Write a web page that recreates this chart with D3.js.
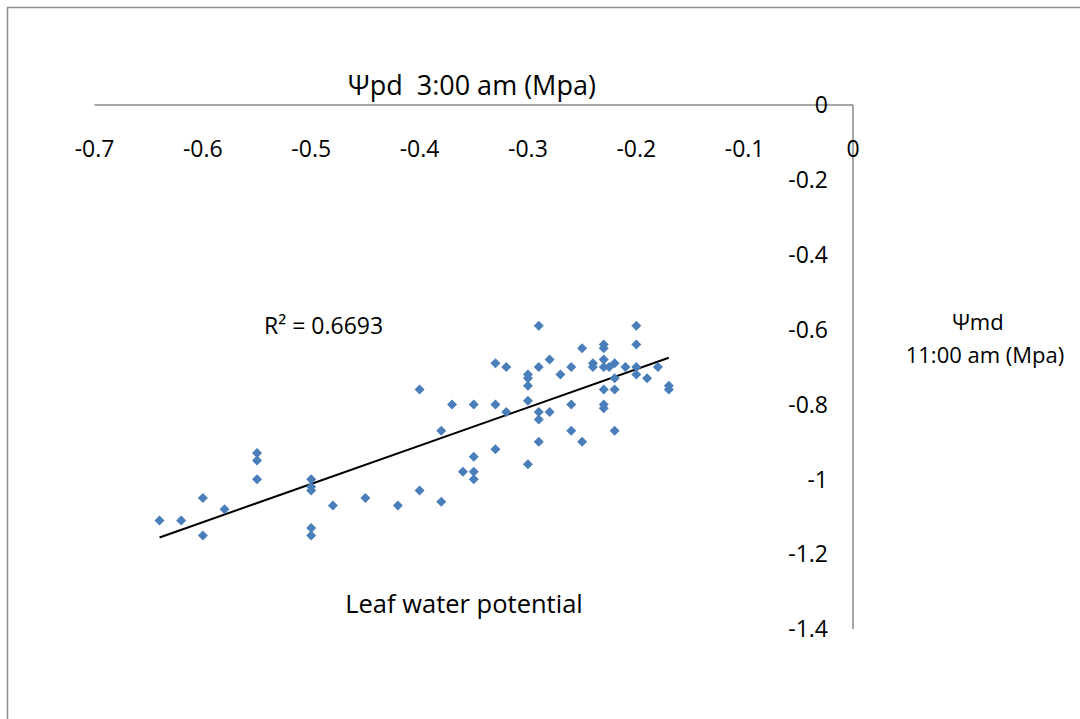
<!DOCTYPE html>
<html>
<head>
<meta charset="utf-8">
<script src="https://cdn.jsdelivr.net/npm/d3@7"></script>
<style>
  html, body { margin: 0; padding: 0; background: #ffffff; }
  svg { display: block; }
  text { font-family: "Open Sans", "Liberation Sans", sans-serif; fill: #000; }
</style>
</head>
<body>
<svg id="chart" width="1080" height="719"></svg>
<script>
// ---- data ----
const psiPredawn = [
  -0.64, -0.62, -0.60, -0.60, -0.58, -0.55, -0.55, -0.55,
  -0.50, -0.50, -0.50, -0.50, -0.50, -0.48, -0.45, -0.42,
  -0.40, -0.40, -0.38, -0.38, -0.37, -0.36, -0.35, -0.35,
  -0.35, -0.35, -0.33, -0.33, -0.33, -0.32, -0.32, -0.30,
  -0.30, -0.30, -0.30, -0.30, -0.29, -0.29, -0.29, -0.29,
  -0.29, -0.28, -0.28, -0.27, -0.26, -0.26, -0.26, -0.25,
  -0.25, -0.24, -0.24, -0.23, -0.23, -0.23, -0.23, -0.23,
  -0.23, -0.23, -0.225, -0.22, -0.22, -0.22, -0.22, -0.21,
  -0.20, -0.20, -0.20, -0.20, -0.19, -0.18, -0.17, -0.17
];
const psiMidday = [
  -1.11, -1.11, -1.05, -1.15, -1.08, -0.93, -0.95, -1.00,
  -1.00, -1.02, -1.03, -1.13, -1.15, -1.07, -1.05, -1.07,
  -1.03, -0.76, -1.06, -0.87, -0.80, -0.98, -0.80, -0.94,
  -0.98, -1.00, -0.69, -0.80, -0.92, -0.70, -0.82, -0.72,
  -0.73, -0.75, -0.79, -0.96, -0.59, -0.70, -0.82, -0.84,
  -0.90, -0.68, -0.82, -0.72, -0.70, -0.80, -0.87, -0.65,
  -0.90, -0.69, -0.70, -0.64, -0.65, -0.68, -0.70, -0.76,
  -0.80, -0.81, -0.70, -0.69, -0.73, -0.76, -0.87, -0.70,
  -0.59, -0.64, -0.70, -0.72, -0.73, -0.70, -0.75, -0.76
];
const xTicks = [-0.7, -0.6, -0.5, -0.4, -0.3, -0.2, -0.1, 0];
const yTicks = [0, -0.2, -0.4, -0.6, -0.8, -1, -1.2, -1.4];
const xTitle = "Ψpd  3:00 am (Mpa)";
const yTitleLines = ["Ψmd", "11:00 am (Mpa)"];
const chartLabel = "Leaf water potential";
const r2Label = "R² = 0.6693";

// ---- layout ----
const svg = d3.select("#chart");
const x = d3.scaleLinear().domain([-0.7, 0]).range([94.5, 853]);
const y = d3.scaleLinear().domain([0, -1.4]).range([105, 629]);
const fmt = d => String(d);  // plain hyphen-minus like the reference

// outer frame
svg.append("rect")
  .attr("x", 7.5).attr("y", 7.5)
  .attr("width", 1100).attr("height", 750)
  .attr("fill", "none").attr("stroke", "#8c8c8c").attr("stroke-width", 1.5);

// axes lines
svg.append("line")
  .attr("x1", x(-0.7)).attr("x2", x(0))
  .attr("y1", y(0)).attr("y2", y(0))
  .attr("stroke", "#888").attr("stroke-width", 1.5);
svg.append("line")
  .attr("x1", x(0)).attr("x2", x(0))
  .attr("y1", y(0)).attr("y2", y(-1.4))
  .attr("stroke", "#888").attr("stroke-width", 1.5);

// x tick labels (placed below the axis line)
svg.append("g").selectAll("text").data(xTicks).join("text")
  .attr("x", d => x(d))
  .attr("y", 157)
  .attr("text-anchor", "middle")
  .style("font-size", "23px")
  .text(fmt);

// y tick labels (left of the axis line)
svg.append("g").selectAll("text").data(yTicks).join("text")
  .attr("x", 828)
  .attr("y", d => y(d))
  .attr("dy", "0.36em")
  .attr("text-anchor", "end")
  .style("font-size", "23px")
  .text(fmt);

// titles
svg.append("text")
  .attr("x", 472).attr("y", 95)
  .attr("text-anchor", "middle")
  .style("font-size", "27px")
  .style("white-space", "pre")
  .text(xTitle);

svg.append("g").selectAll("text").data(yTitleLines).join("text")
  .attr("x", (d, i) => i === 0 ? 978 : 985)
  .attr("y", (d, i) => 330 + i * 33)
  .attr("text-anchor", "middle")
  .style("font-size", "22px")
  .text(d => d);

svg.append("text")
  .attr("x", 464).attr("y", 613)
  .attr("text-anchor", "middle")
  .style("font-size", "25.5px")
  .text(chartLabel);

svg.append("text")
  .attr("x", 264).attr("y", 334)
  .attr("text-anchor", "start")
  .style("font-size", "23px")
  .text(r2Label);

// linear trend line (least squares)
const pts = psiPredawn.map((v, i) => [v, psiMidday[i]]);
const mx = d3.mean(psiPredawn), my = d3.mean(psiMidday);
const sxy = d3.sum(pts, p => (p[0] - mx) * (p[1] - my));
const sxx = d3.sum(pts, p => (p[0] - mx) ** 2);
const slope = sxy / sxx, intercept = my - slope * mx;
const [xmin, xmax] = d3.extent(psiPredawn);
svg.append("line")
  .attr("x1", x(xmin)).attr("y1", y(intercept + slope * xmin))
  .attr("x2", x(xmax)).attr("y2", y(intercept + slope * xmax))
  .attr("stroke", "#000").attr("stroke-width", 2);

// points (diamonds)
const diamond = d3.symbol().type(d3.symbolSquare).size(50);
svg.append("g").selectAll("path").data(pts).join("path")
  .attr("d", diamond)
  .attr("transform", d => `translate(${x(d[0])},${y(d[1])}) rotate(45)`)
  .attr("fill", "#4a7ebb");
</script>
</body>
</html>
